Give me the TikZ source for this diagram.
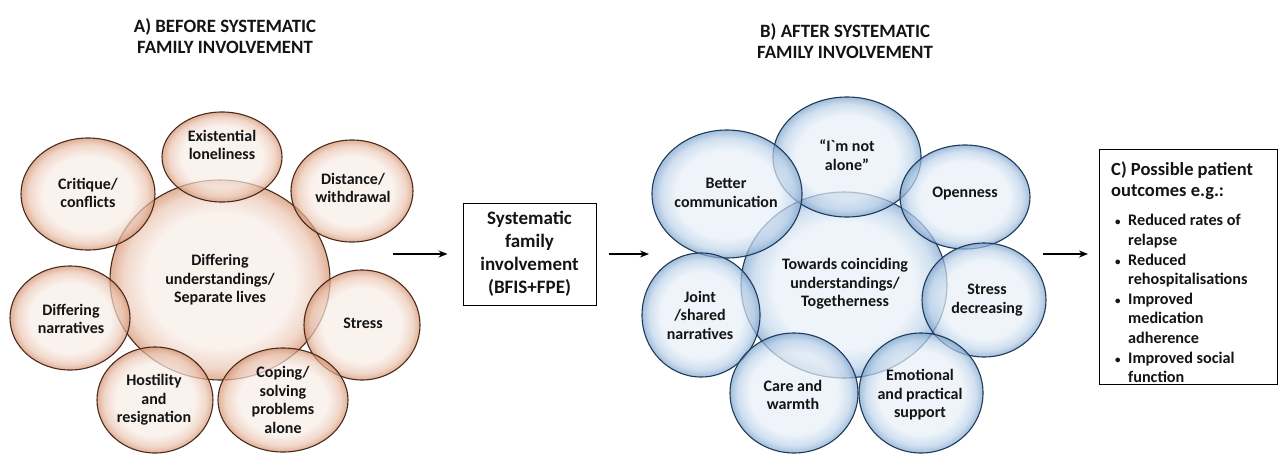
\documentclass[tikz,border=0pt]{standalone}
\usepackage{fontspec}
\setmainfont{Carlito}
\newfontfamily\grvfont{Carlito}[Ligatures=TeXOff]
\usetikzlibrary{shapes.geometric,arrows.meta}
\definecolor{oin}{HTML}{F8ECE6}
\definecolor{omid}{HTML}{EBC6B2}
\definecolor{oout}{HTML}{D38F6C}
\definecolor{oline}{HTML}{4A2B1C}
\definecolor{bin}{HTML}{E8F0F8}
\definecolor{bmid}{HTML}{BCD2E9}
\definecolor{bout}{HTML}{7BA3CC}
\definecolor{bline}{HTML}{1F3A5A}
\definecolor{txtc}{HTML}{141414}
\pgfdeclareradialshading{obub}{\pgfpoint{0bp}{0bp}}{color(0bp)=(oin); color(17bp)=(oin); color(22bp)=(omid); color(25bp)=(oout); color(50bp)=(oout)}
\pgfdeclareradialshading{bbub}{\pgfpoint{0bp}{0bp}}{color(0bp)=(bin); color(17bp)=(bin); color(22bp)=(bmid); color(25bp)=(bout); color(50bp)=(bout)}
\tikzset{
  bubO/.style={ellipse, draw=oline, line width=1.1pt, shading=obub, fill opacity=0.7, inner sep=0pt},
  bubB/.style={ellipse, draw=bline, line width=1.1pt, shading=bbub, fill opacity=0.7, inner sep=0pt},
  txt/.style={align=center, text=txtc, font=\bfseries\fontsize{16}{18.5}\selectfont, inner sep=0pt},
  ttl/.style={align=center, text=txtc, font=\bfseries\fontsize{18.8}{21.5}\selectfont, inner sep=0pt},
  arr/.style={line width=1.4pt, -{Stealth[length=9pt,width=7pt]}},
}
\begin{document}
\begin{tikzpicture}[x=1pt,y=-1pt]
\useasboundingbox (0,0) rectangle (1279,455);
% titles
\node[ttl] (ta) at (225,36) {A) BEFORE SYSTEMATIC\\FAMILY INVOLVEMENT};
\node[ttl] (tb) at (845,41) {B) AFTER SYSTEMATIC\\FAMILY INVOLVEMENT};
% left cluster
\node[bubO, minimum width=220, minimum height=200] (lc) at (220,280) {};
\node[bubO, minimum width=120, minimum height=90] (l1) at (222,157) {};
\node[bubO, minimum width=134, minimum height=112] (l2) at (88,194) {};
\node[bubO, minimum width=122, minimum height=102] (l3) at (352,191) {};
\node[bubO, minimum width=120, minimum height=104] (l4) at (70,318) {};
\node[bubO, minimum width=116, minimum height=110] (l5) at (362,325) {};
\node[bubO, minimum width=116, minimum height=106] (l6) at (155,400) {};
\node[bubO, minimum width=130, minimum height=104] (l7) at (283,400) {};
\node[txt] (lct) at (220,280) {Differing\\understandings/\\Separate lives};
\node[txt] (l1t) at (222,145) {Existential\\loneliness};
\node[txt] (l2t) at (88,193) {Critique/\\conflicts};
\node[txt] (l3t) at (353,188) {Distance/\\withdrawal};
\node[txt] (l4t) at (71,319) {Differing\\narratives};
\node[txt] (l5t) at (363,323) {Stress};
\node[txt] (l6t) at (154,400) {Hostility\\and\\resignation};
\node[txt] (l7t) at (283,400) {Coping/\\solving\\problems\\alone};
% middle box
\node[draw, line width=1pt, minimum width=133, minimum height=102, align=center, text=txtc,
      font=\bfseries\fontsize{19}{23}\selectfont] (sfi) at (529.5,254) {Systematic\\family\\involvement\\(BFIS+FPE)};
\coordinate (a1s) at (393,254);
\draw[arr] (a1s) -- ([xshift=-15pt]sfi.west);
\coordinate (a2e) at (649,254);
\draw[arr] ([xshift=12pt]sfi.east) -- (a2e);
% right cluster
\node[bubB, minimum width=206, minimum height=186] (rc) at (844,285) {};
\node[bubB, minimum width=148, minimum height=120] (r1) at (847,157) {};
\node[bubB, minimum width=150, minimum height=128] (r2) at (727,194) {};
\node[bubB, minimum width=130, minimum height=104] (r3) at (965,197) {};
\node[bubB, minimum width=118, minimum height=124] (r4) at (701,315) {};
\node[bubB, minimum width=124, minimum height=114] (r5) at (984,300) {};
\node[bubB, minimum width=128, minimum height=120] (r6) at (794,393) {};
\node[bubB, minimum width=124, minimum height=120] (r7) at (921,393) {};
\node[txt] (rct) at (845,284) {Towards coinciding\\understandings/\\Togetherness};
\node[txt] (r1t) at (847,155) {“I{\grvfont`}m not\\alone”};
\node[txt] (r2t) at (726,193) {Better\\communication};
\node[txt] (r3t) at (965,194) {Openness};
\node[txt] (r4t) at (700,315) {Joint\\/shared\\narratives};
\node[txt] (r5t) at (987,300) {Stress\\decreasing};
\node[txt] (r6t) at (793,395) {Care and\\warmth};
\node[txt] (r7t) at (920,395) {Emotional\\and practical\\support};
% outcomes box
\node[draw, line width=1pt, minimum width=178, minimum height=235, anchor=north west, inner sep=0pt] (cbox) at (1099,149) {};
\coordinate (a3s) at (1043,254);
\draw[arr] (a3s) -- ([xshift=-11pt]cbox.west |- a3s);
\node[anchor=north west, inner sep=0pt, text=txtc, align=left,
      font=\bfseries\fontsize{18.5}{20.5}\selectfont] (chead) at (1111,162) {C) Possible patient\\outcomes e.g.:};
\node[anchor=north west, inner sep=0pt, text=txtc,
      font=\bfseries\fontsize{16.2}{19.6}\selectfont] (clist) at (1115,212) {%
\renewcommand{\arraystretch}{1}\setlength{\tabcolsep}{0pt}%
\begin{tabular}{@{}p{13pt}@{}l@{}}
{\fontsize{11}{11}\selectfont•} & Reduced rates of\\
 & relapse\\
{\fontsize{11}{11}\selectfont•} & Reduced\\
 & rehospitalisations\\
{\fontsize{11}{11}\selectfont•} & Improved\\
 & medication\\
 & adherence\\
{\fontsize{11}{11}\selectfont•} & Improved social\\
 & function
\end{tabular}};
\end{tikzpicture}
\end{document}
